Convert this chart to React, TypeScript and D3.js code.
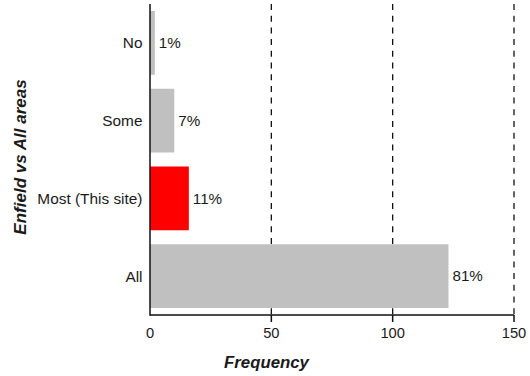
import React from "react";
import * as d3 from "d3";

const categories = ["No", "Some", "Most (This site)", "All"];
const counts = [2, 10, 16, 123];
const percentLabels = ["1%", "7%", "11%", "81%"];
const barColors = ["#c0c0c0", "#c0c0c0", "#ff0000", "#c0c0c0"];
const xTicks = [0, 50, 100, 150];
const gridTicks = [50, 100, 150];

export default function App() {
  const width = 530;
  const height = 376;
  const x = d3.scaleLinear().domain([0, 150]).range([150, 514]);
  const y = d3
    .scaleBand<string>()
    .domain(categories)
    .range([4, 315])
    .paddingInner(0.18)
    .paddingOuter(0.09);
  const font = "'Liberation Sans', Arial, sans-serif";
  const textColor = "#1a1a1a";
  const axisY = 315;

  return (
    <svg
      width={width}
      height={height}
      style={{ position: "absolute", left: 0, top: 0, background: "#fff" }}
      fontFamily={font}
    >
      {gridTicks.map((t) => (
        <line
          key={"g" + t}
          x1={x(t)}
          x2={x(t)}
          y1={4}
          y2={axisY}
          stroke="#111"
          strokeWidth={1.3}
          strokeDasharray="6,5.7"
        />
      ))}
      {categories.map((c, i) => {
        const yy = y(c)!;
        const bw = y.bandwidth();
        return (
          <g key={c}>
            <rect
              x={x(0)}
              y={yy}
              width={x(counts[i]) - x(0)}
              height={bw}
              fill={barColors[i]}
            />
            <text
              x={x(counts[i]) + 4}
              y={yy + bw / 2}
              dy="0.35em"
              fontSize={15.2}
              fill={textColor}
            >
              {percentLabels[i]}
            </text>
            <text
              x={142.5}
              y={yy + bw / 2}
              dy="0.35em"
              fontSize={15.4}
              textAnchor="end"
              fill={textColor}
            >
              {c}
            </text>
          </g>
        );
      })}
      <line x1={x(0)} x2={x(0)} y1={4} y2={axisY + 0.75} stroke="#111" strokeWidth={1.5} />
      <line x1={x(0)} x2={x(150)} y1={axisY} y2={axisY} stroke="#111" strokeWidth={1.5} />
      {xTicks.map((t) => (
        <g key={"t" + t}>
          {t !== 0 && (
            <line x1={x(t)} x2={x(t)} y1={axisY} y2={axisY + 7} stroke="#111" strokeWidth={1.5} />
          )}
          <text
            x={x(t)}
            y={333}
            dy="0.35em"
            fontSize={14.7}
            textAnchor="middle"
            fill={textColor}
          >
            {t}
          </text>
        </g>
      ))}
      <text
        x={266.5}
        y={362}
        dy="0.35em"
        fontSize={16.8}
        fontWeight="bold"
        fontStyle="italic"
        textAnchor="middle"
        fill={textColor}
      >
        Frequency
      </text>
      <text
        transform="translate(20,157) rotate(-90)"
        dy="0.35em"
        fontSize={17}
        fontWeight="bold"
        fontStyle="italic"
        textAnchor="middle"
        fill={textColor}
      >
        Enfield vs All areas
      </text>
    </svg>
  );
}
